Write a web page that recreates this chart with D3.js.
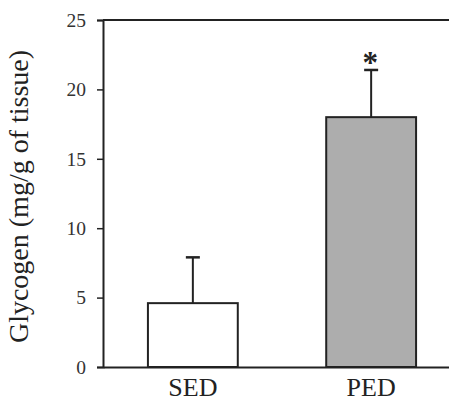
<!DOCTYPE html>
<html>
<head>
<meta charset="utf-8">
<script src="https://cdn.jsdelivr.net/npm/d3@7"></script>
<style>
  body { margin: 0; background: #fff; }
  svg text { font-family: "Liberation Serif", "Times New Roman", Times, serif; fill: #222; }
</style>
</head>
<body>
<div id="chart"></div>
<script>
// data
const groups = ["SED", "PED"];
const means = [4.6, 18.0];
const errors = [3.3, 3.4];
const fills = ["#ffffff", "#adadad"];
const marks = ["", "*"];
const yTicks = [0, 5, 10, 15, 20, 25];

const W = 449, H = 403;
const serif = '"Liberation Serif", "Times New Roman", Times, serif';
const margin = { top: 20, right: -12, bottom: 36, left: 103 };
const width = W - margin.left - margin.right,
  height = H - margin.top - margin.bottom;

const svg = d3
  .select("#chart")
  .append("svg")
  .attr("width", W)
  .attr("height", H)
  .append("g")
  .attr("transform", `translate(${margin.left},${margin.top})`);

const x = d3
  .scaleBand()
  .domain(groups)
  .range([0, width])
  .paddingInner(0.496)
  .paddingOuter(0.252);

const y = d3.scaleLinear().domain([0, 25]).range([height, 0]);

// frame: top line
svg
  .append("line")
  .attr("x1", 0)
  .attr("x2", width)
  .attr("y1", y(25))
  .attr("y2", y(25))
  .style("stroke", "#222")
  .style("stroke-width", 2);

const yAxis = svg
  .append("g")
  .attr("font-family", serif)
  .call(d3.axisLeft(y).tickValues(yTicks).tickSize(6).tickPadding(11));
yAxis.select(".domain").style("stroke", "#222").style("stroke-width", 2);
yAxis.selectAll(".tick line").style("stroke", "#222").style("stroke-width", 1.5);
yAxis
  .selectAll(".tick text")
  .style("font-family", serif)
  .style("font-size", "19.5px")
  .style("fill", "#333");

// bars
svg
  .selectAll("rect.bar")
  .data(groups)
  .join("rect")
  .attr("class", "bar")
  .attr("x", (d) => x(d))
  .attr("width", x.bandwidth())
  .attr("y", (d, i) => y(means[i]))
  .attr("height", (d, i) => y(0) - y(means[i]))
  .style("fill", (d, i) => fills[i])
  .style("stroke", "#222")
  .style("stroke-width", 2);

// error bars
groups.forEach((g, i) => {
  const cx = x(g) + x.bandwidth() / 2;
  svg
    .append("line")
    .attr("x1", cx)
    .attr("x2", cx)
    .attr("y1", y(means[i]))
    .attr("y2", y(means[i] + errors[i]))
    .style("stroke", "#222")
    .style("stroke-width", 2);
  svg
    .append("line")
    .attr("x1", cx - 7)
    .attr("x2", cx + 7)
    .attr("y1", y(means[i] + errors[i]))
    .attr("y2", y(means[i] + errors[i]))
    .style("stroke", "#222")
    .style("stroke-width", 2.5);
  if (marks[i]) {
    svg
      .append("text")
      .attr("x", cx - 1)
      .attr("y", y(means[i] + errors[i]) + 3)
      .attr("text-anchor", "middle")
      .style("font-family", serif)
      .style("font-size", "31px")
      .style("font-weight", "bold")
      .text(marks[i]);
  }
});

// x axis (baseline)
const xAxis = svg
  .append("g")
  .attr("font-family", serif)
  .attr("transform", `translate(0,${height})`)
  .call(d3.axisBottom(x).tickSize(0).tickPadding(11));
xAxis.select(".domain").style("stroke", "#222").style("stroke-width", 2);
xAxis
  .selectAll(".tick text")
  .style("font-family", serif)
  .style("font-size", "26px")
  .style("fill", "#222");

// y label
svg
  .append("text")
  .attr("transform", "rotate(-90)")
  .attr("x", -(height / 2) - 3)
  .attr("y", -75)
  .attr("text-anchor", "middle")
  .style("font-family", serif)
  .style("font-size", "28px")
  .text("Glycogen (mg/g of tissue)");
</script>
</body>
</html>
